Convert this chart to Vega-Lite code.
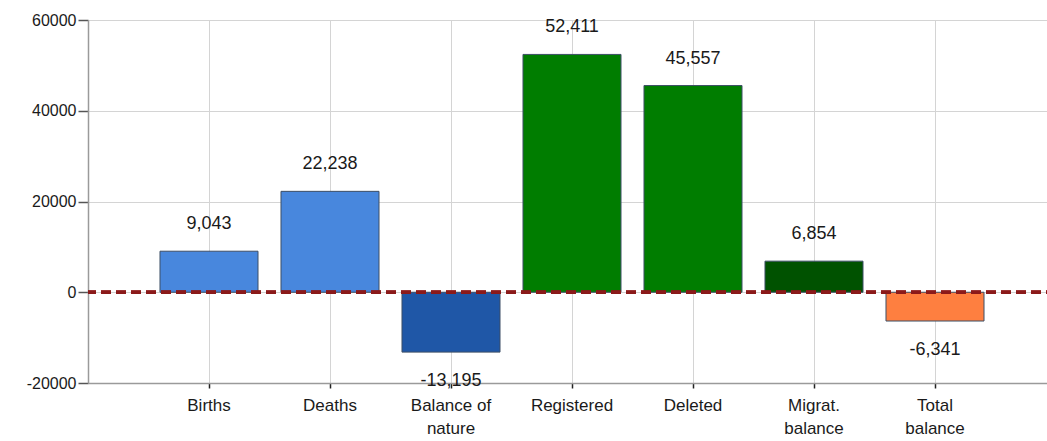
{
  "$schema": "https://vega.github.io/schema/vega-lite/v6.json",
  "autosize": {"type": "none"},
  "padding": {"left": 88, "top": 20, "right": 0, "bottom": 58},
  "width": 968,
  "height": 363,
  "background": "white",
  "config": {
    "locale": {"number": {"decimal": ".", "thousands": ",", "grouping": [3], "currency": ["$", ""], "minus": "-"}},
    "view": {"stroke": null},
    "font": "Liberation Sans",
    "axis": {"labelFont": "Liberation Sans", "labelColor": "#1a1a1a", "gridColor": "#d4d4d4", "gridWidth": 1, "domainColor": "#9a9a9a", "domainWidth": 1.5}
  },
  "data": {
    "values": [
      {"category": "Births", "value": 9043},
      {"category": "Deaths", "value": 22238},
      {"category": "Balance of nature", "value": -13195},
      {"category": "Registered", "value": 52411},
      {"category": "Deleted", "value": 45557},
      {"category": "Migrat. balance", "value": 6854},
      {"category": "Total balance", "value": -6341}
    ]
  },
  "encoding": {
    "x": {
      "field": "category", "type": "nominal", "sort": null,
      "scale": {"paddingInner": 0.19, "paddingOuter": 0.595},
      "axis": {
        "title": null, "labelAngle": 0, "labelFontSize": 17, "labelPadding": 9,
        "labelLineHeight": 23, "bandPosition": 0.5, "grid": true,
        "tickColor": "#222222", "tickSize": 5, "tickWidth": 1.5,
        "labelExpr": "datum.label == 'Balance of nature' ? ['Balance of', 'nature'] : datum.label == 'Migrat. balance' ? ['Migrat.', 'balance'] : datum.label == 'Total balance' ? ['Total', 'balance'] : datum.label"
      }
    }
  },
  "layer": [
    {
      "mark": {"type": "bar", "stroke": "#3d4f66", "strokeWidth": 1},
      "encoding": {
        "y": {
          "field": "value", "type": "quantitative",
          "scale": {"domain": [-20000, 60000], "nice": false},
          "axis": {"title": null, "values": [-20000, 0, 20000, 40000, 60000], "format": "d", "labelFontSize": 16, "tickSize": 10, "tickColor": "#555555", "tickWidth": 1.5, "labelPadding": 2}
        },
        "color": {
          "field": "category", "type": "nominal", "legend": null,
          "scale": {
            "domain": ["Births", "Deaths", "Balance of nature", "Registered", "Deleted", "Migrat. balance", "Total balance"],
            "range": ["#4887dd", "#4887dd", "#1f57a7", "#007d00", "#007d00", "#005200", "#fe7f40"]
          }
        }
      }
    },
    {
      "mark": {"type": "rule", "color": "#8b1a1a", "strokeWidth": 3, "strokeDash": [10, 5]},
      "encoding": {"y": {"datum": 0}, "x": null}
    },
    {
      "transform": [{"filter": "datum.value >= 0"}],
      "mark": {"type": "text", "fontSize": 18, "baseline": "middle", "dy": -27, "color": "#1a1a1a"},
      "encoding": {
        "y": {"field": "value", "type": "quantitative"},
        "text": {"field": "value", "type": "quantitative", "format": ",d"}
      }
    },
    {
      "transform": [{"filter": "datum.value < 0"}],
      "mark": {"type": "text", "fontSize": 18, "baseline": "middle", "dy": 29, "color": "#1a1a1a"},
      "encoding": {
        "y": {"field": "value", "type": "quantitative"},
        "text": {"field": "value", "type": "quantitative", "format": ",d"}
      }
    }
  ]
}
